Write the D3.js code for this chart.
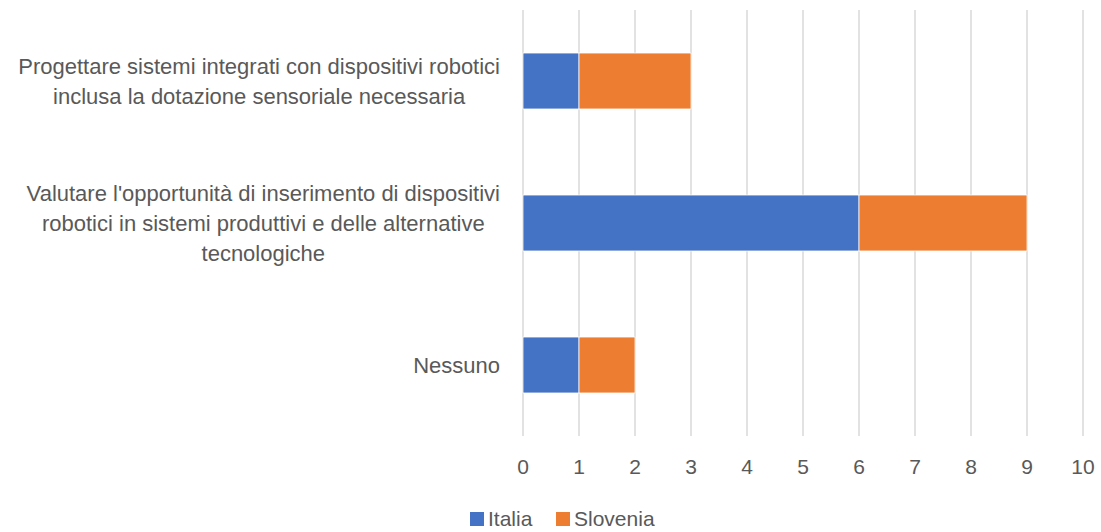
<!DOCTYPE html>
<html>
<head>
<meta charset="utf-8">
<script src="https://cdn.jsdelivr.net/npm/d3@7"></script>
<style>
  body { margin: 0; background: #fff; }
  text { font-family: "Liberation Sans", Arial, sans-serif; fill: #595959; }
</style>
</head>
<body>
<svg id="chart" width="1101" height="532"></svg>
<script>
// categories (top to bottom), each one split into wrapped lines
const categories = [
  ["Progettare sistemi integrati con dispositivi robotici", "inclusa la dotazione sensoriale necessaria"],
  ["Valutare l'opportunità di inserimento di dispositivi", "robotici in sistemi produttivi e delle alternative", "tecnologiche"],
  ["Nessuno"]
];
const seriesNames = ["Italia", "Slovenia"];
const italia = [1, 6, 1];
const slovenia = [2, 3, 1];
const xTicks = [0, 1, 2, 3, 4, 5, 6, 7, 8, 9, 10];
const colors = ["#4472C4", "#ED7D31"];

const svg = d3.select("#chart");
const plotLeft = 523, plotRight = 1083, plotTop = 10, plotBottom = 436;

const x = d3.scaleLinear().domain([0, 10]).range([plotLeft, plotRight]);
const y = d3.scaleBand().domain(d3.range(categories.length)).range([plotTop, plotBottom]).paddingInner(0.606).paddingOuter(0.303);

// grid
svg.append("g")
  .selectAll("line")
  .data(xTicks)
  .enter()
  .append("line")
  .attr("x1", (d) => x(d))
  .attr("x2", (d) => x(d))
  .attr("y1", plotTop)
  .attr("y2", plotBottom)
  .attr("stroke", "#d9d9d9")
  .attr("stroke-width", 1.5);

// stacked bars
const rows = categories.map((c, i) => ({ i, Italia: italia[i], Slovenia: slovenia[i] }));
const stack = d3.stack().keys(seriesNames)(rows);

svg.append("g")
  .selectAll("g")
  .data(stack)
  .enter()
  .append("g")
  .attr("fill", (d, i) => colors[i])
  .selectAll("rect")
  .data((d) => d)
  .enter()
  .append("rect")
  .attr("x", (d) => x(d[0]))
  .attr("width", (d) => x(d[1]) - x(d[0]))
  .attr("y", (d) => y(d.data.i))
  .attr("height", y.bandwidth())
  .attr("stroke", "#fff")
  .attr("stroke-width", 0.75);

// x axis labels
svg.append("g")
  .selectAll("text")
  .data(xTicks)
  .enter()
  .append("text")
  .attr("x", (d) => x(d))
  .attr("y", 467)
  .attr("dy", "0.35em")
  .attr("text-anchor", "middle")
  .style("font-size", "21px")
  .text((d) => d);

// category labels: lines centred inside a block that is right aligned to the axis
const lineH = 30;
categories.forEach((lines, i) => {
  const g = svg.append("g");
  const cy = y(i) + y.bandwidth() / 2;
  const texts = lines.map((l, k) =>
    g.append("text")
      .attr("y", cy + (k - (lines.length - 1) / 2) * lineH)
      .attr("dy", "0.35em")
      .attr("text-anchor", "middle")
      .style("font-size", "22px")
      .text(l)
  );
  const w = d3.max(texts, (t) => t.node().getComputedTextLength());
  texts.forEach((t) => t.attr("x", 500 - w / 2));
});

// legend
const legend = svg.append("g");
const legX = [470, 556];
seriesNames.forEach((s, i) => {
  legend.append("rect")
    .attr("x", legX[i])
    .attr("y", 512)
    .attr("width", 14)
    .attr("height", 14)
    .attr("fill", colors[i]);
  legend.append("text")
    .attr("x", legX[i] + 18)
    .attr("y", 519)
    .attr("dy", "0.35em")
    .style("font-size", "21px")
    .text(s);
});
</script>
</body>
</html>
